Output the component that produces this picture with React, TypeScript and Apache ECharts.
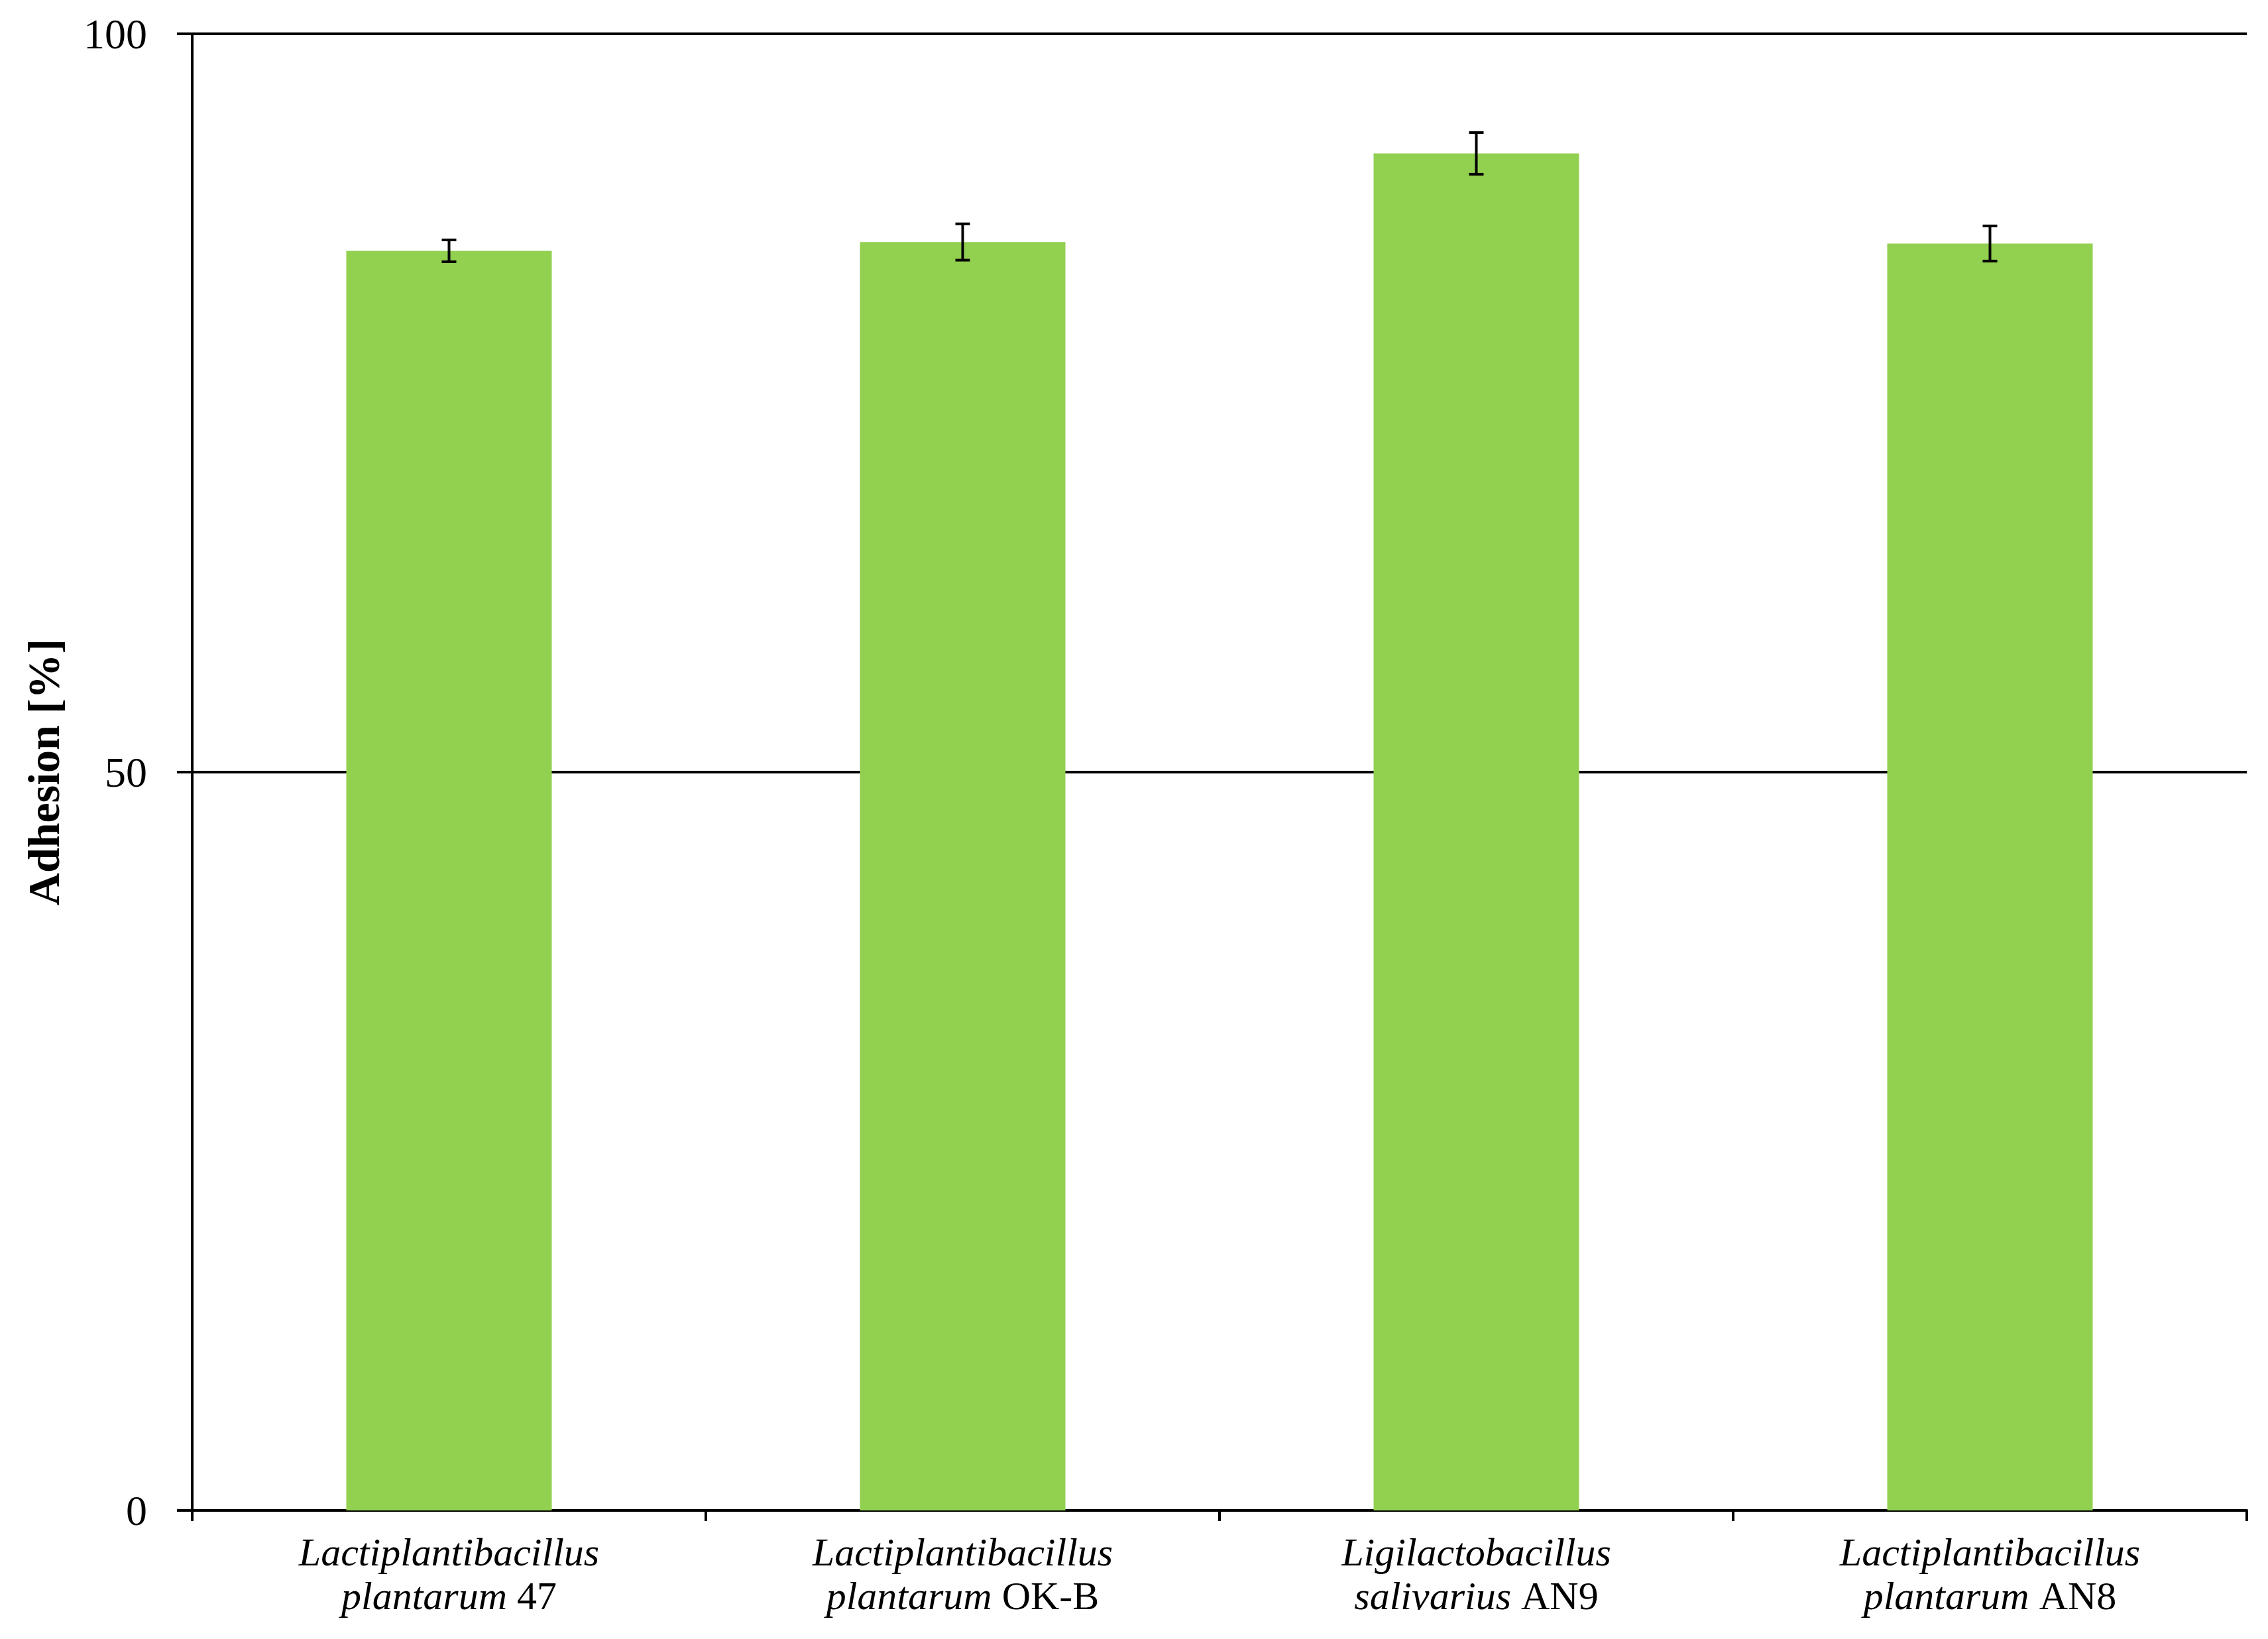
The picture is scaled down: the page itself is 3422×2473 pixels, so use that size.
import React, { useEffect, useRef } from "react";
import * as echarts from "echarts";

const genus = [
  "Lactiplantibacillus",
  "Lactiplantibacillus",
  "Ligilactobacillus",
  "Lactiplantibacillus",
];
const species = ["plantarum", "plantarum", "salivarius", "plantarum"];
const strains = ["47", "OK-B", "AN9", "AN8"];
const categories = genus.map((g, i) => `${g} ${species[i]} ${strains[i]}`);
const adhesion = [85.3, 85.9, 91.9, 85.8];
const errors = [0.74, 1.23, 1.41, 1.19];
const yTicks = [0, 50, 100];

const FONT = "'Palatino Linotype', 'Book Antiqua', Palatino, 'Liberation Serif', serif";

export default function App() {
  const ref = useRef<HTMLDivElement>(null);
  useEffect(() => {
    if (!ref.current) return;
    const chart = echarts.init(ref.current, undefined, { renderer: "svg" });
    const option = {
      animation: false,
      backgroundColor: "#ffffff",
      grid: { left: 290, right: 32, top: 51, bottom: 194, containLabel: false },
      xAxis: {
        type: "category",
        data: categories,
        axisLine: { show: true, lineStyle: { color: "#000", width: 4 } },
        axisTick: { show: true, length: 16, lineStyle: { color: "#000", width: 4 } },
        axisLabel: {
          interval: 0,
          margin: 30,
          color: "#000",
          fontFamily: FONT,
          fontSize: 60,
          lineHeight: 66,
          formatter: (_v: string, idx: number) =>
            `{i|${genus[idx]}}\n{i|${species[idx]}} {n|${strains[idx]}}`,
          rich: {
            i: { fontStyle: "italic", fontFamily: FONT, fontSize: 60, lineHeight: 66, color: "#000" },
            n: { fontStyle: "normal", fontFamily: FONT, fontSize: 60, lineHeight: 66, color: "#000" },
          },
        },
        splitLine: { show: false },
      },
      yAxis: {
        type: "value",
        min: yTicks[0],
        max: yTicks[yTicks.length - 1],
        interval: yTicks[1] - yTicks[0],
        name: "Adhesion [%]",
        nameLocation: "middle",
        nameGap: 190,
        nameRotate: 90,
        nameTextStyle: { fontFamily: FONT, fontSize: 68, fontWeight: "bold", color: "#000" },
        axisLine: { show: true, lineStyle: { color: "#000", width: 4 } },
        axisTick: { show: true, length: 23, inside: false, lineStyle: { color: "#000", width: 4 } },
        axisLabel: { margin: 68, color: "#000", fontFamily: FONT, fontSize: 64 },
        splitLine: { show: true, lineStyle: { color: "#000", width: 4 } },
      },
      series: [
        {
          type: "bar",
          data: adhesion,
          barCategoryGap: "60%",
          itemStyle: { color: "#92D050" },
          z: 2,
        },
        {
          type: "custom",
          z: 5,
          data: adhesion.map((v, i) => [i, v, errors[i]]),
          encode: { x: 0, y: 1 },
          renderItem: (_params: any, api: any) => {
            const i = api.value(0);
            const v = api.value(1);
            const e = api.value(2);
            const top = api.coord([i, v + e]);
            const bot = api.coord([i, v - e]);
            const hw = 11;
            const style = { stroke: "#000", lineWidth: 4 };
            return {
              type: "group",
              children: [
                { type: "line", shape: { x1: top[0], y1: top[1], x2: bot[0], y2: bot[1] }, style },
                { type: "line", shape: { x1: top[0] - hw, y1: top[1], x2: top[0] + hw, y2: top[1] }, style },
                { type: "line", shape: { x1: bot[0] - hw, y1: bot[1], x2: bot[0] + hw, y2: bot[1] }, style },
              ],
            };
          },
        },
      ],
    };
    chart.setOption(option as any);
    return () => chart.dispose();
  }, []);
  return (
    <div
      ref={ref}
      style={{ position: "absolute", left: 0, top: 0, width: 3422, height: 2473 }}
    />
  );
}
